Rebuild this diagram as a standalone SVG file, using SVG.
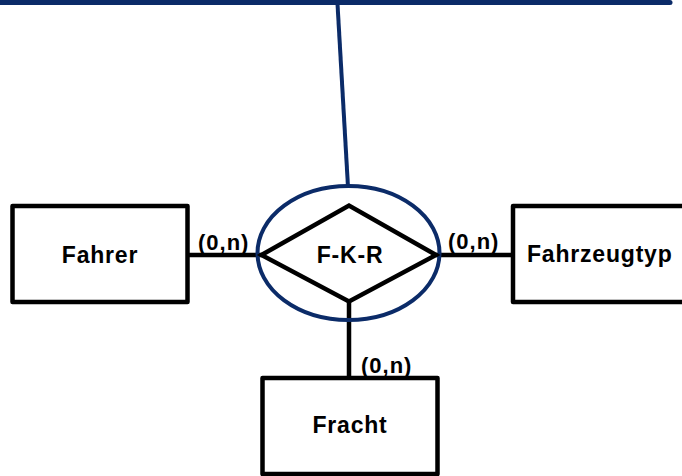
<svg xmlns="http://www.w3.org/2000/svg" width="682" height="476" viewBox="0 0 682 476">
  <style>
    .box { fill: #ffffff; stroke: #000000; stroke-width: 4.5; stroke-linejoin: round; }
    .rel { fill: #ffffff; stroke: #000000; stroke-width: 4.5; stroke-linejoin: miter; }
    .conn { stroke: #000000; stroke-width: 4.5; fill: none; }
    .blue { stroke: #0b2b68; stroke-width: 4; fill: none; }
    .label { font-family: "Liberation Sans", Arial, sans-serif; font-weight: bold; font-size: 23px; letter-spacing: 0.8px; fill: #000000; }
    .card { font-family: "Liberation Sans", Arial, sans-serif; font-weight: bold; font-size: 22px; letter-spacing: 1px; fill: #000000; }
  </style>
  <rect width="682" height="476" fill="#ffffff"/>

  <!-- upper link to the parent structure -->
  <g id="parent-link">
    <line x1="-3" y1="2.5" x2="670" y2="2.5" stroke="#0b2b68" stroke-width="5" stroke-linecap="round"/>
    <line class="blue" x1="337.5" y1="4" x2="348" y2="187"/>
  </g>

  <!-- connectors between relationship and entities -->
  <g id="connectors">
    <line class="conn" x1="188" y1="255" x2="262" y2="255"/>
    <line class="conn" x1="436" y1="255" x2="513" y2="255"/>
    <line class="conn" x1="349" y1="301" x2="349" y2="378"/>
    <text class="card" x="198" y="250">(0,n)</text>
    <text class="card" x="448" y="249">(0,n)</text>
    <text class="card" x="361" y="373">(0,n)</text>
  </g>

  <g id="fahrer">
    <rect class="box" x="12.5" y="206" width="175" height="96"/>
    <text class="label" x="100" y="263" text-anchor="middle">Fahrer</text>
  </g>

  <g id="fahrzeugtyp">
    <rect class="box" x="513" y="206" width="200" height="96"/>
    <text class="label" x="527" y="262">Fahrzeugtyp</text>
  </g>

  <g id="fracht">
    <rect class="box" x="262.5" y="378" width="175" height="96"/>
    <text class="label" x="350" y="433" text-anchor="middle">Fracht</text>
  </g>

  <g id="fkr">
    <ellipse class="blue" cx="348.5" cy="253" rx="91" ry="67"/>
    <polygon class="rel" points="261.5,255 349,205.5 436,255 349,301.5"/>
    <text class="label" x="350" y="263" text-anchor="middle">F-K-R</text>
  </g>
</svg>
